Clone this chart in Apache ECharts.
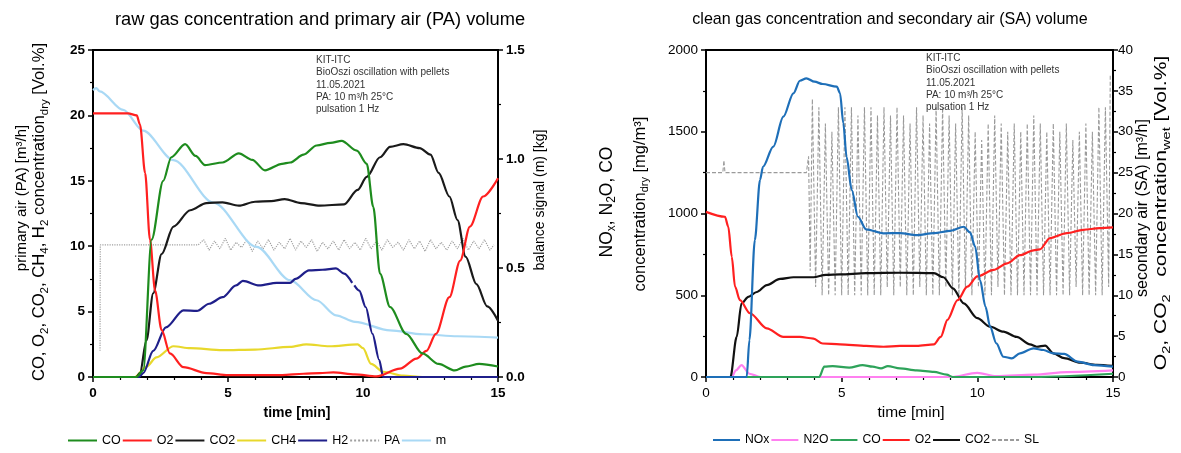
<!DOCTYPE html>
<html>
<head>
<meta charset="UTF-8"/>
<title>raw gas / clean gas</title>
<script src="https://cdn.jsdelivr.net/npm/echarts@6/dist/echarts.min.js"></script>
<style>
html,body{margin:0;padding:0;background:#fff;}
#main{width:1181px;height:453px;}
</style>
</head>
<body>
<div id="main"></div>
<script>
// ---- left chart: raw gas (time in min) ----
var coT  = [0, 1.6, 1.86, 2.17, 2.6, 2.9, 3.41, 3.8, 4.15, 4.8, 5.4, 5.9, 6.37, 7.0, 7.3, 7.8, 8.28, 8.8, 9.21, 9.77, 10.14, 10.38, 10.63, 11.0, 11.6, 12.2, 12.8, 13.4, 13.8, 14.3, 15];
var coV  = [0, 0, 0.5, 10.5, 15.0, 16.8, 17.8, 16.9, 16.2, 16.4, 17.1, 16.6, 15.8, 16.3, 16.4, 17.0, 17.7, 17.9, 18.05, 17.3, 16.3, 13.0, 7.9, 5.35, 3.3, 1.8, 1.0, 0.5, 0.8, 1.0, 0.8];
var o2T  = [0, 1.3, 1.62, 1.74, 1.93, 2.11, 2.3, 2.54, 2.85, 3.35, 4.2, 5.0, 6.0, 7.0, 7.8, 8.4, 8.9, 9.7, 10.5, 11.37, 11.98, 12.35, 12.7, 13.2, 13.6, 13.96, 14.45, 15];
var o2V  = [20.15, 20.15, 20.0, 19.3, 15.6, 10.5, 6.6, 3.6, 1.8, 0.75, 0.3, 0.15, 0.15, 0.15, 0.25, 0.3, 0.35, 0.2, 0.05, 0.64, 1.4, 2.0, 3.3, 6.1, 8.9, 11.5, 13.8, 15.2];
var co2T = [0, 1.6, 1.74, 1.98, 2.23, 2.54, 2.98, 3.6, 4.2, 4.8, 5.4, 6.0, 6.6, 7.1, 7.7, 8.4, 9.3, 9.8, 10.14, 10.63, 11.0, 11.5, 12.1, 12.5, 12.8, 13.2, 13.5, 13.8, 14.2, 14.6, 15];
var co2V = [0, 0, 0.3, 2.8, 6.4, 9.4, 11.5, 12.75, 13.3, 13.35, 13.1, 13.4, 13.45, 13.6, 13.3, 13.1, 13.2, 14.3, 15.3, 16.8, 17.6, 17.8, 17.5, 17.0, 15.6, 13.8, 12.0, 9.2, 7.1, 5.4, 4.3];
var ch4T = [0, 1.55, 1.98, 2.35, 2.98, 3.6, 4.8, 6.0, 7.3, 7.9, 8.75, 9.8, 10.0, 10.3, 10.75, 11.5, 12.2, 15];
var ch4V = [0, 0, 0.8, 1.5, 2.35, 2.2, 2.05, 2.1, 2.3, 2.5, 2.35, 2.5, 2.2, 1.0, 0.4, 0.1, 0, 0];
var h2T  = [0, 1.7, 1.86, 2.23, 2.7, 3.35, 3.85, 4.3, 4.8, 5.3, 5.55, 6.16, 6.8, 7.3, 7.5, 8.0, 8.5, 9.0, 9.3, 9.6, 9.64, 9.68, 9.86, 10.1, 10.35, 10.6, 10.75, 15];
var h2V  = [0, 0, 0.3, 2.0, 3.8, 5.1, 5.05, 5.6, 6.1, 7.0, 7.35, 7.0, 7.2, 7.2, 7.5, 8.15, 8.2, 8.3, 7.9, 7.2, null, 7.0, 6.6, 5.35, 3.3, 1.3, 0, 0];
var paT  = [0.26, 0.27, 3.9, 4.1, 4.3, 4.5, 4.7, 4.9, 5.1, 5.3, 5.5, 5.7, 5.9, 6.1, 6.3, 6.5, 6.7, 6.9, 7.1, 7.3, 7.5, 7.7, 7.9, 8.1, 8.3, 8.5, 8.7, 8.9, 9.1, 9.3, 9.5, 9.7, 9.9, 10.1, 10.3, 10.5, 10.7, 10.9, 11.1, 11.3, 11.5, 11.7, 11.9, 12.1, 12.3, 12.5, 12.7, 12.9, 13.1, 13.3, 13.5, 13.7, 13.9, 14.1, 14.3, 14.5, 14.7, 14.85];
var paV  = [2.0, 10.1, 10.1,
  10.5, 9.7, 10.4, 9.8, 10.6, 9.7, 10.3, 9.9, 10.5, 9.6,
  10.4, 9.8, 10.5, 9.7, 10.3, 9.8, 10.6, 9.7, 10.4, 9.9,
  10.5, 9.6, 10.3, 9.8, 10.4, 9.7, 10.5, 9.8, 10.3, 9.7,
  10.6, 9.8, 10.4, 9.7, 10.5, 9.9, 10.3, 9.7, 10.5, 9.8,
  10.4, 9.6, 10.5, 9.8, 10.3, 9.7, 10.4, 9.8, 10.6, 9.7,
  10.4, 9.8, 10.5, 9.7, 10.1];
var mT   = [0, 0.12, 0.25, 1.12, 1.86, 2.98, 4.46, 6.06, 7.3, 8.28, 9.0, 9.7, 11.0, 12.2, 13.5, 15];
var mV   = [1.316, 1.325, 1.31, 1.225, 1.13, 0.995, 0.80, 0.597, 0.444, 0.352, 0.283, 0.253, 0.214, 0.196, 0.187, 0.181];

// ---- right chart: clean gas ----
var noxT = [0, 1.3, 1.5, 1.6, 1.8, 1.99, 2.1, 2.48, 2.85, 3.22, 3.46, 3.7, 4.0, 4.3, 4.82, 4.94, 5.06, 5.18, 5.37, 5.6, 5.9, 6.54, 7.15, 7.77, 8.4, 9.0, 9.5, 9.73, 9.92, 10.1, 10.3, 10.47, 10.7, 10.96, 11.27, 11.57, 12.07, 12.44, 12.8, 13.2, 13.7, 14.3, 15];
var noxV = [0, 0, 0, 226, 838, 1205, 1286, 1409, 1592, 1735, 1812, 1827, 1806, 1792, 1776, 1735, 1552, 1347, 1144, 980, 903, 879, 880, 868, 880, 894, 919, 884, 797, 593, 430, 308, 206, 124, 114, 145, 175, 165, 145, 141, 94, 73, 63];
var n2oT = [0, 0.95, 1.1, 1.31, 1.6, 2.0, 9.0, 10.0, 10.7, 12.1, 13.3, 15];
var n2oV = [0, 0, 40, 73, 20, 0, 0, 25, 5, 15, 30, 40];
var coRT = [0, 4.17, 4.36, 4.67, 5.28, 5.77, 6.14, 6.45, 6.7, 7.15, 7.77, 8.4, 8.87, 9.1, 12.0, 15];
var coRV = [0, 0, 63, 67, 57, 73, 63, 53, 67, 53, 41, 31, 14, 0, 0, 20];
var o2RT = [0, 0.7, 0.82, 0.95, 1.07, 1.25, 1.62, 2.24, 2.85, 3.46, 3.96, 4.3, 4.94, 5.9, 6.54, 7.15, 7.77, 8.4, 8.65, 8.9, 9.27, 9.63, 10.0, 10.6, 11.1, 11.57, 12.07, 12.3, 12.68, 13.3, 13.9, 14.5, 15];
var o2RV = [20.2, 19.6, 18.4, 14.7, 11.05, 9.4, 7.8, 5.95, 4.9, 4.9, 4.7, 4.1, 4.0, 3.8, 3.7, 3.8, 3.8, 4.0, 4.9, 7.0, 9.4, 11.05, 12.3, 13.1, 13.9, 14.9, 15.5, 15.6, 17.0, 17.6, 18.0, 18.2, 18.3];
var co2RT = [0, 0.9, 1.13, 1.31, 1.56, 1.87, 2.24, 2.73, 3.22, 3.96, 4.42, 4.94, 5.9, 7.15, 8.4, 8.75, 9.1, 9.5, 10.0, 10.47, 10.96, 11.45, 11.94, 12.19, 12.5, 12.8, 13.2, 13.8, 14.4, 15];
var co2RV = [0, 0, 4.9, 9.0, 9.8, 10.4, 11.25, 12.0, 12.2, 12.2, 12.5, 12.55, 12.7, 12.75, 12.7, 12.2, 10.85, 9.0, 7.2, 6.15, 5.55, 4.9, 4.0, 3.7, 3.85, 2.9, 2.3, 1.75, 1.5, 1.35];
var slT = [0, 0.62, 0.66, 0.70, 3.70, 3.78, 3.84, 3.92,
  4.04, 4.16, 4.28, 4.40, 4.52, 4.64, 4.76, 4.88, 5.00, 5.12,
  5.24, 5.36, 5.48, 5.60, 5.72, 5.84, 5.96, 6.08, 6.20, 6.32,
  6.44, 6.56, 6.68, 6.80, 6.92, 7.04, 7.16, 7.28, 7.40, 7.52,
  7.64, 7.76, 7.88, 8.00, 8.12, 8.24, 8.36, 8.48, 8.60, 8.72,
  8.84, 8.96, 9.08, 9.20, 9.32, 9.44, 9.56, 9.68, 9.80, 9.92,
  10.04, 10.16, 10.28, 10.40, 10.52, 10.64, 10.76, 10.88, 11.00, 11.12,
  11.24, 11.36, 11.48, 11.60, 11.72, 11.84, 11.96, 12.08, 12.20, 12.32,
  12.44, 12.56, 12.68, 12.80, 12.92, 13.04, 13.16, 13.28, 13.40, 13.52,
  13.64, 13.76, 13.88, 14.00, 14.12, 14.24, 14.36, 14.48, 14.60, 14.72,
  14.84, 14.90];
var slV = [25, 25, 26.5, 25, 25, 27, 13, 34,
  11, 33, 10, 31, 10, 30, 10, 33, 10, 33,
  10, 33, 10, 32, 10, 33, 10, 33, 10, 32,
  10, 33, 11, 32, 10, 33, 11, 32, 10, 31,
  10, 33, 11, 32, 10, 31, 10, 33, 10, 33,
  11, 32, 10, 31, 10, 33, 11, 32, 10, 30,
  11, 29, 10, 31, 10, 32, 11, 31, 10, 30,
  10, 31, 10, 30, 10, 31, 10, 32, 10, 31,
  10, 30, 10, 31, 10, 30, 10, 31, 10, 29,
  11, 30, 10, 31, 10, 30, 10, 33, 10, 33,
  11, 37];

var leftNames  = ['CO', 'O2', 'CO2', 'CH4', 'H2', 'PA', 'm'];
var rightNames = ['NOx', 'N2O', 'CO_r', 'O2_r', 'CO2_r', 'SL'];
var notes = ['KIT-ITC', 'BioOszi oscillation with pellets', '11.05.2021', 'PA: 10 m³/h 25°C', 'pulsation 1 Hz'];

var FONT = '"Liberation Sans", Arial, sans-serif';

function pairs(t, v) {
    var out = [];
    for (var i = 0; i < t.length; i++) out.push([t[i], v[i] === null ? '-' : v[i]]);
    return out;
}
function line(name, t, v, color, xi, yi, opt) {
    opt = opt || {};
    return {
        name: name, type: 'line', xAxisIndex: xi, yAxisIndex: yi,
        data: pairs(t, v), symbol: 'none', showSymbol: false,
        smooth: opt.smooth === undefined ? 0.3 : opt.smooth, smoothMonotone: 'x',
        connectNulls: false, z: opt.z || 2,
        lineStyle: { color: color, width: opt.width || 2.2, type: opt.type || 'solid' },
        itemStyle: { color: color }
    };
}
function xAx(grid, bold) {
    return {
        gridIndex: grid, type: 'value', min: 0, max: 15, interval: 5,
        axisLine: { lineStyle: { color: '#000', width: 2 } },
        axisTick: { length: 5, lineStyle: { color: '#000', width: 1.5 } },
        minorTick: { show: true, splitNumber: 5, length: 3, lineStyle: { color: '#000', width: 1.2 } },
        axisLabel: { color: '#000', fontSize: 13.5, fontWeight: bold ? 'bold' : 'normal', fontFamily: FONT, margin: 9 },
        splitLine: { show: false }
    };
}
function yAx(grid, pos, max, step, bold, fmt, margin) {
    return {
        gridIndex: grid, type: 'value', position: pos, min: 0, max: max, interval: step,
        axisLine: { show: true, lineStyle: { color: '#000', width: 2 } },
        axisTick: { show: true, length: 5, lineStyle: { color: '#000', width: 1.5 } },
        minorTick: { show: true, splitNumber: 2, length: 3, lineStyle: { color: '#000', width: 1.2 } },
        axisLabel: { color: '#000', fontSize: 13.5, fontWeight: bold ? 'bold' : 'normal', fontFamily: FONT, margin: margin || 8,
                     formatter: fmt || function (v) { return String(v); } },
        splitLine: { show: false }
    };
}
// text element; rotated names are stretched along the text with scaleX
function txt(x, y, s, size, opt) {
    opt = opt || {};
    var sub = opt.sub || size - 4;
    return {
        type: 'text', x: x, y: y, rotation: opt.rot || 0, scaleX: opt.sx || 1, z: 100,
        style: {
            text: s, fill: opt.color || '#000', fontSize: size, fontFamily: FONT,
            fontWeight: opt.bold ? 'bold' : 'normal', lineHeight: opt.lh || size + 4,
            align: opt.align || 'center', verticalAlign: opt.va || 'middle',
            rich: { s: { fontSize: sub, fontFamily: FONT, lineHeight: sub, verticalAlign: 'bottom', fill: opt.color || '#000' } }
        }
    };
}

var R = Math.PI / 2;
var graphics = [
    txt(320, 20, 'raw gas concentration and primary air (PA) volume', 18.3),
    txt(890, 20, 'clean gas concentration and secondary air (SA) volume', 16.1),
    txt(22, 198, 'primary air (PA) [m³/h]', 15, { rot: R, lh: 20 }),
    txt(40, 212, 'CO, O{s|2}, CO{s|2}, CH{s|4}, H{s|2} concentration{s|dry} [Vol.%]', 16, { rot: R, lh: 21, sub: 11, sx: 1.04 }),
    txt(540, 200, 'balance signal (m) [kg]', 14, { rot: R }),
    txt(297, 413, 'time [min]', 14, { bold: true }),
    txt(607, 202, 'NO{s|x}, N{s|2}O, CO', 17.5, { rot: R, lh: 22, sub: 12 }),
    txt(640, 204, 'concentration{s|dry} [mg/m³]', 16.5, { rot: R, lh: 21, sub: 11 }),
    txt(1143, 208, 'secondary air (SA) [m³/h]', 16, { rot: R }),
    txt(1162, 213, 'O{s|2}, CO{s|2}   concentration{s|wet} [Vol.%]', 16, { rot: R, lh: 20, sub: 11, sx: 1.32 }),
    txt(911, 413, 'time [min]', 15.5)
];
for (var i = 0; i < notes.length; i++) {
    graphics.push(txt(316, 55 + i * 12.2, notes[i], 10, { align: 'left', va: 'top', color: '#333', lh: 11 }));
    graphics.push(txt(926, 53 + i * 12.2, notes[i], 10, { align: 'left', va: 'top', color: '#333', lh: 11 }));
}

var legendBase = {
    orient: 'horizontal', top: 434, padding: 0, itemWidth: 29, itemHeight: 12, itemGap: 1,
    itemStyle: { color: 'rgba(0,0,0,0)', borderWidth: 0, opacity: 0 },
    textStyle: { color: '#000', fontSize: 12.5, fontFamily: FONT },
    formatter: function (n) { return n.replace('_r', ''); }
};

var option = {
    animation: false,
    backgroundColor: '#fff',
    textStyle: { fontFamily: FONT },
    grid: [
        { left: 93, right: 683, top: 50, bottom: 76, show: true, borderColor: '#000', borderWidth: 2, backgroundColor: 'transparent' },
        { left: 706, right: 68, top: 50, bottom: 76, show: true, borderColor: '#000', borderWidth: 2, backgroundColor: 'transparent' }
    ],
    xAxis: [xAx(0, true), xAx(1, false)],
    yAxis: [
        yAx(0, 'left', 25, 5, true),
        yAx(0, 'right', 1.5, 0.5, true, function (v) { return v.toFixed(1); }),
        yAx(1, 'left', 2000, 500, false),
        yAx(1, 'right', 40, 5, false, null, 5)
    ],
    legend: [
        Object.assign({}, legendBase, { left: 67, data: leftNames }),
        Object.assign({}, legendBase, { left: 712, data: rightNames, itemWidth: 27, textStyle: { color: '#000', fontSize: 12.2, fontFamily: FONT } })
    ],
    graphic: graphics,
    series: [
        line('PA', paT, paV, '#a0a0a0', 0, 0, { smooth: false, width: 1.2, type: 'dotted', z: 1 }),
        line('m', mT, mV, '#a9d9f5', 0, 1),
        line('CH4', ch4T, ch4V, '#e8d82c', 0, 0),
        line('H2', h2T, h2V, '#1f1f8a', 0, 0),
        line('CO2', co2T, co2V, '#1a1a1a', 0, 0),
        line('O2', o2T, o2V, '#ff2020', 0, 0),
        line('CO', coT, coV, '#1e8c1e', 0, 0),

        line('SL', slT, slV, '#9a9a9a', 1, 3, { smooth: false, width: 1.1, type: [4, 2], z: 1 }),
        line('N2O', n2oT, n2oV, '#ff80f0', 1, 2),
        line('CO_r', coRT, coRV, '#2ea35a', 1, 2),
        line('CO2_r', co2RT, co2RV, '#111111', 1, 3),
        line('O2_r', o2RT, o2RV, '#ff2020', 1, 3),
        line('NOx', noxT, noxV, '#1e6fb8', 1, 2)
    ]
};

var chart = echarts.init(document.getElementById('main'));
chart.setOption(option);
</script>
</body>
</html>
